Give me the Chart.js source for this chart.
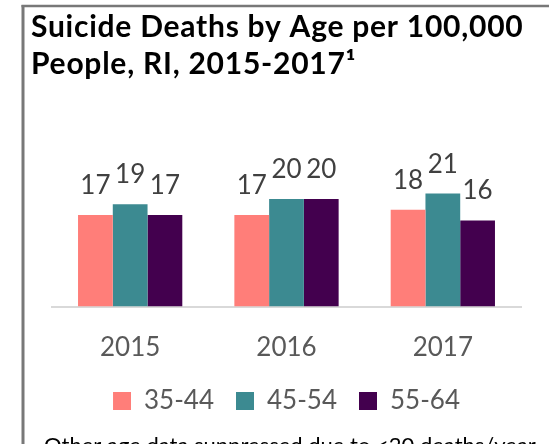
<!DOCTYPE html>
<html>
<head>
<meta charset="utf-8">
<script src="https://cdn.jsdelivr.net/npm/chart.js@4/dist/chart.umd.min.js"></script>
<style>
  html, body { margin: 0; padding: 0; background: #ffffff; }
  #wrap { position: relative; width: 549px; height: 444px; }
</style>
</head>
<body>
<div id="wrap"><canvas id="chart" width="549" height="444"></canvas></div>
<script>
// Suicide deaths per 100,000 people in Rhode Island, by age group
const years = ['2015', '2016', '2017'];
const ageGroups = ['35-44', '45-54', '55-64'];
const rate3544 = [17, 17, 18];
const rate4554 = [19, 20, 21];
const rate5564 = [17, 20, 16];

const titleLines = ['Suicide Deaths by Age per 100,000', 'People, RI, 2015-2017\u00B9'];
const footnote = 'Other age data suppressed due to <20 deaths/year';

const colors = ['#FF7E79', '#3C8A91', '#43004E'];
const FONT = 'Lato, "Open Sans", sans-serif';

// frame, heading and footnote around the plot
const decorations = {
  id: 'decorations',
  beforeDraw(chart) {
    const ctx = chart.ctx;
    ctx.save();
    ctx.fillStyle = '#ffffff';
    ctx.fillRect(0, 0, chart.width, chart.height);
    ctx.strokeStyle = '#787878';
    ctx.lineWidth = 3;
    ctx.beginPath();
    ctx.moveTo(23, 5);
    ctx.lineTo(23, chart.height);
    ctx.stroke();
    ctx.lineWidth = 2.3;
    ctx.beginPath();
    ctx.moveTo(21.5, 6);
    ctx.lineTo(chart.width, 6);
    ctx.stroke();
    ctx.restore();
  },
  afterDraw(chart) {
    const ctx = chart.ctx;
    ctx.save();
    ctx.fillStyle = '#000000';
    ctx.textAlign = 'left';
    ctx.textBaseline = 'alphabetic';
    ctx.font = 'bold 30px ' + FONT;
    ctx.letterSpacing = '0.75px';
    ctx.fillText(titleLines[0], 31, 37);
    ctx.fillText(titleLines[1], 31, 74);
    ctx.letterSpacing = '0px';
    ctx.font = '22px ' + FONT;
    ctx.fillText(footnote, 44, 453);
    ctx.restore();
  }
};

// value printed above every bar
const valueLabels = {
  id: 'valueLabels',
  afterDatasetsDraw(chart) {
    const ctx = chart.ctx;
    ctx.save();
    ctx.font = '26px ' + FONT;
    ctx.fillStyle = '#404040';
    ctx.textAlign = 'center';
    ctx.textBaseline = 'alphabetic';
    chart.data.datasets.forEach((ds, i) => {
      chart.getDatasetMeta(i).data.forEach((bar, j) => {
        ctx.fillText(String(ds.data[j]), bar.x, bar.y - 21);
      });
    });
    ctx.restore();
  }
};

new Chart(document.getElementById('chart'), {
  type: 'bar',
  data: {
    labels: years,
    datasets: [
      { label: ageGroups[0], data: rate3544, backgroundColor: colors[0] },
      { label: ageGroups[1], data: rate4554, backgroundColor: colors[1] },
      { label: ageGroups[2], data: rate5564, backgroundColor: colors[2] }
    ]
  },
  options: {
    responsive: false,
    animation: false,
    events: [],
    layout: { padding: { top: 172, left: 52, right: 28, bottom: 20 } },
    datasets: {
      bar: { categoryPercentage: 0.667, barPercentage: 1.0, borderWidth: 0 }
    },
    scales: {
      x: {
        grid: { display: false, drawTicks: false },
        border: { display: true, color: '#D9D9D9', width: 2 },
        ticks: { color: '#595959', font: { family: FONT, size: 26 }, padding: 25.5 },
        // keep the category axis compact so the legend sits close below the years
        afterFit(scale) { scale.height = 59.5; }
      },
      y: {
        display: false,
        min: 0,
        max: 25
      }
    },
    plugins: {
      title: { display: false },
      tooltip: { enabled: false },
      legend: {
        display: true,
        position: 'bottom',
        labels: {
          color: '#595959',
          font: { family: FONT, size: 26 },
          boxWidth: 18,
          boxHeight: 18,
          padding: 22
        }
      }
    }
  },
  plugins: [decorations, valueLabels]
});
</script>
</body>
</html>
